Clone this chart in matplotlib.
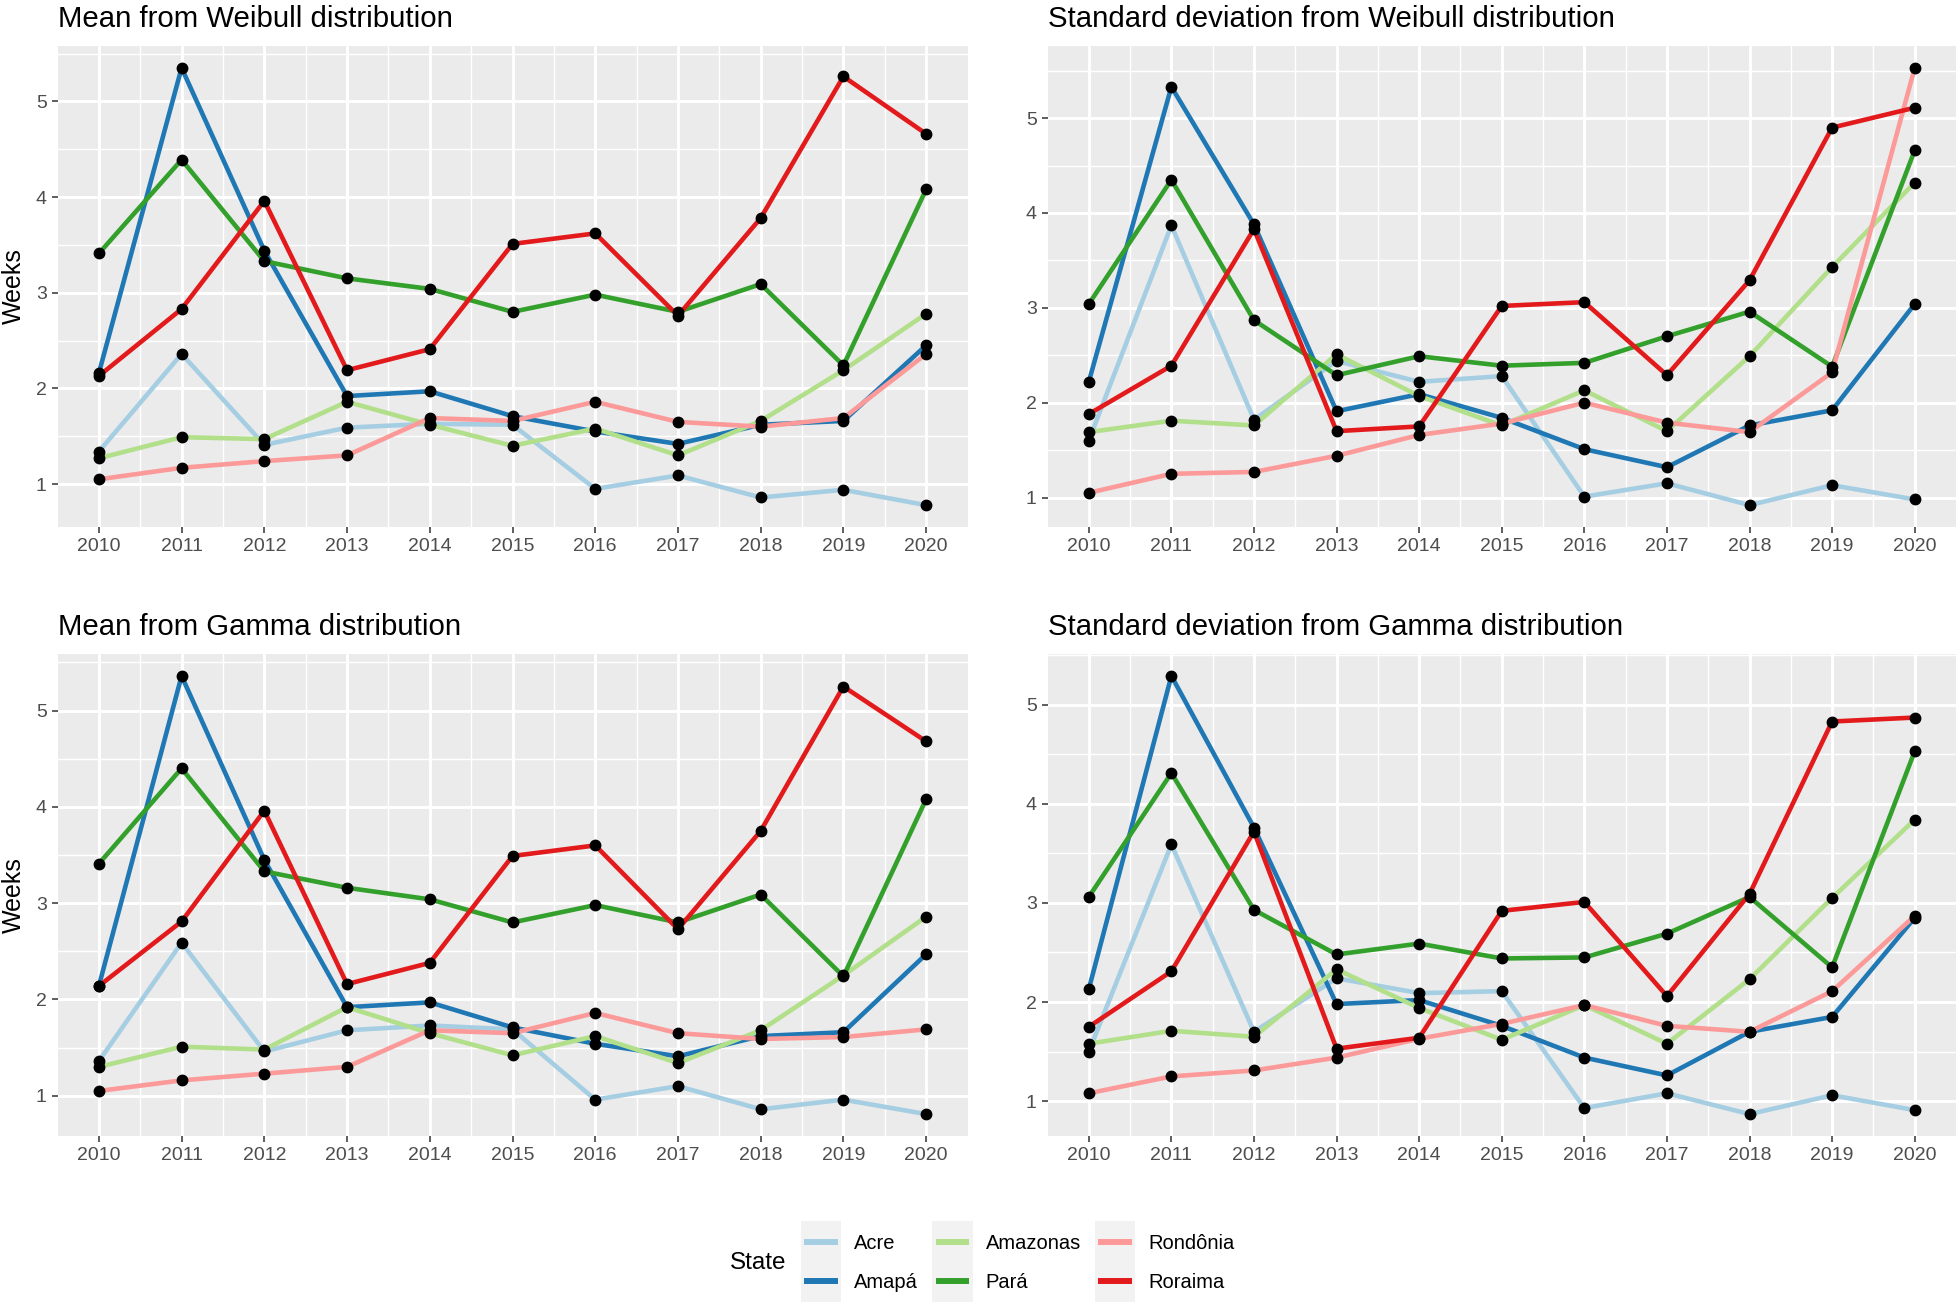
import matplotlib
matplotlib.use("Agg")
import matplotlib.pyplot as plt
from matplotlib.legend_handler import HandlerBase
from matplotlib.patches import Rectangle
from matplotlib.lines import Line2D
import numpy as np

plt.rcParams['font.family'] = ['Liberation Sans', 'DejaVu Sans']

years = list(range(2010, 2021))
states = ["Acre", "Amapá", "Amazonas", "Pará", "Rondônia", "Roraima"]
colors = ["#A6CEE3", "#1F78B4", "#B2DF8A", "#33A02C", "#FB9A99", "#E31A1C"]

# Mean from Weibull distribution
mean_weibull_acre     = [1.34, 2.36, 1.41, 1.59, 1.63, 1.62, 0.95, 1.09, 0.86, 0.94, 0.78]
mean_weibull_amapa    = [2.16, 5.35, 3.44, 1.92, 1.97, 1.71, 1.55, 1.42, 1.62, 1.66, 2.45]
mean_weibull_amazonas = [1.27, 1.49, 1.47, 1.86, 1.62, 1.40, 1.58, 1.30, 1.66, 2.19, 2.78]
mean_weibull_para     = [3.41, 4.39, 3.33, 3.15, 3.04, 2.80, 2.98, 2.80, 3.09, 2.24, 4.08]
mean_weibull_rondonia = [1.05, 1.17, 1.24, 1.30, 1.69, 1.66, 1.86, 1.65, 1.60, 1.69, 2.36]
mean_weibull_roraima  = [2.13, 2.83, 3.96, 2.19, 2.41, 3.51, 3.62, 2.76, 3.78, 5.26, 4.66]

# Standard deviation from Weibull distribution
sd_weibull_acre     = [1.60, 3.87, 1.82, 2.44, 2.22, 2.28, 1.01, 1.15, 0.92, 1.13, 0.98]
sd_weibull_amapa    = [2.22, 5.33, 3.88, 1.91, 2.09, 1.84, 1.51, 1.32, 1.76, 1.92, 3.04]
sd_weibull_amazonas = [1.69, 1.81, 1.76, 2.51, 2.07, 1.76, 2.13, 1.70, 2.49, 3.43, 4.32]
sd_weibull_para     = [3.04, 4.35, 2.87, 2.29, 2.49, 2.39, 2.42, 2.70, 2.96, 2.38, 4.66]
sd_weibull_rondonia = [1.05, 1.25, 1.27, 1.44, 1.66, 1.78, 2.00, 1.79, 1.69, 2.32, 5.53]
sd_weibull_roraima  = [1.88, 2.39, 3.83, 1.70, 1.75, 3.02, 3.06, 2.29, 3.29, 4.90, 5.11]

# Mean from Gamma distribution
mean_gamma_acre     = [1.36, 2.59, 1.46, 1.68, 1.73, 1.69, 0.96, 1.10, 0.86, 0.96, 0.81]
mean_gamma_amapa    = [2.14, 5.36, 3.45, 1.92, 1.97, 1.71, 1.54, 1.41, 1.62, 1.66, 2.47]
mean_gamma_amazonas = [1.30, 1.51, 1.48, 1.92, 1.65, 1.42, 1.62, 1.34, 1.68, 2.25, 2.86]
mean_gamma_para     = [3.41, 4.40, 3.33, 3.16, 3.04, 2.80, 2.98, 2.80, 3.09, 2.24, 4.08]
mean_gamma_rondonia = [1.05, 1.16, 1.23, 1.30, 1.68, 1.65, 1.86, 1.65, 1.59, 1.61, 1.69]
mean_gamma_roraima  = [2.14, 2.81, 3.96, 2.16, 2.38, 3.49, 3.60, 2.73, 3.75, 5.25, 4.68]

# Standard deviation from Gamma distribution
sd_gamma_acre     = [1.50, 3.59, 1.70, 2.24, 2.09, 2.11, 0.93, 1.08, 0.87, 1.06, 0.91]
sd_gamma_amapa    = [2.13, 5.29, 3.76, 1.98, 2.02, 1.76, 1.44, 1.26, 1.70, 1.85, 2.85]
sd_gamma_amazonas = [1.58, 1.71, 1.65, 2.33, 1.94, 1.62, 1.97, 1.58, 2.23, 3.05, 3.84]
sd_gamma_para     = [3.06, 4.31, 2.93, 2.48, 2.59, 2.44, 2.45, 2.69, 3.06, 2.35, 4.53]
sd_gamma_rondonia = [1.08, 1.25, 1.31, 1.44, 1.63, 1.78, 1.97, 1.76, 1.70, 2.11, 2.87]
sd_gamma_roraima  = [1.75, 2.31, 3.72, 1.53, 1.64, 2.92, 3.01, 2.06, 3.09, 4.83, 4.87]

panels = [
    ("Mean from Weibull distribution",
     [mean_weibull_acre, mean_weibull_amapa, mean_weibull_amazonas,
      mean_weibull_para, mean_weibull_rondonia, mean_weibull_roraima]),
    ("Standard deviation from Weibull distribution",
     [sd_weibull_acre, sd_weibull_amapa, sd_weibull_amazonas,
      sd_weibull_para, sd_weibull_rondonia, sd_weibull_roraima]),
    ("Mean from Gamma distribution",
     [mean_gamma_acre, mean_gamma_amapa, mean_gamma_amazonas,
      mean_gamma_para, mean_gamma_rondonia, mean_gamma_roraima]),
    ("Standard deviation from Gamma distribution",
     [sd_gamma_acre, sd_gamma_amapa, sd_gamma_amazonas,
      sd_gamma_para, sd_gamma_rondonia, sd_gamma_roraima]),
]

W, H = 1960, 1304
fig = plt.figure(figsize=(W / 100, H / 100), dpi=100)

# panel boxes in pixels: (left, top, right, bottom)
boxes = [
    (57.5, 46, 967.5, 527),
    (1047.5, 46, 1956, 527),
    (57.5, 654, 967.5, 1136),
    (1047.5, 654, 1956, 1136),
]

LW_PT = 3.3
MS_PT = 7.5

for i, ((title, series), (l, t, r, b)) in enumerate(zip(panels, boxes)):
    ax = fig.add_axes([l / W, 1 - b / H, (r - l) / W, (b - t) / H])
    ax.set_facecolor("#EBEBEB")
    for s in ax.spines.values():
        s.set_visible(False)
    for vals, c in zip(series, colors):
        ax.plot(years, vals, color=c, lw=LW_PT, solid_capstyle="butt", zorder=3)
    for vals in series:
        ax.plot(years, vals, linestyle="none", marker="o", ms=MS_PT,
                color="black", zorder=4)
    allv = np.concatenate([np.asarray(v) for v in series])
    lo, hi = allv.min(), allv.max()
    rng = hi - lo
    ax.set_ylim(lo - 0.05 * rng, hi + 0.05 * rng)
    ax.set_xlim(2009.5, 2020.5)
    ax.set_xticks(years)
    ax.set_xticklabels([str(y) for y in years])
    ax.set_xticks(np.arange(2010.5, 2020, 1.0), minor=True)
    ax.set_yticks([1, 2, 3, 4, 5])
    ymin, ymax = ax.get_ylim()
    ax.set_yticks([v for v in np.arange(0.5, 6.0, 1.0) if ymin < v < ymax], minor=True)
    ax.grid(which="major", color="white", lw=2.1, zorder=1)
    ax.grid(which="minor", color="white", lw=1.05, zorder=1)
    ax.set_axisbelow(True)
    ax.tick_params(which="major", length=4.3, width=1.1, color="#333333",
                   labelsize=14, labelcolor="#4D4D4D", pad=3.5)
    ax.tick_params(which="minor", length=0)
    fig.text(l / W, 1 - (t - 27) / H, title, fontsize=21.2, ha="left",
             va="center", color="black")
    if i % 2 == 0:
        fig.text(14 / W, 1 - ((t + b) / 2) / H, "Weeks", fontsize=18,
                 rotation=90, ha="center", va="center")


class KeyHandler(HandlerBase):
    def create_artists(self, legend, orig_handle, xdescent, ydescent,
                       width, height, fontsize, trans):
        pitch = 29.5
        cy = -ydescent + height / 2
        rect = Rectangle((-xdescent, cy - pitch / 2), width, pitch,
                         facecolor="#F2F2F2", edgecolor="none", transform=trans)
        inset = width * 0.08
        line = Line2D([-xdescent + inset, -xdescent + width - inset], [cy, cy],
                      color=orig_handle.get_color(), lw=LW_PT * 1.3,
                      solid_capstyle="butt", transform=trans)
        return [rect, line]


handles = [Line2D([], [], color=c) for c in colors]
leg = fig.legend(handles, states, loc="center left",
                 bbox_to_anchor=(801 / W, 1 - 1263 / H), ncol=3,
                 frameon=False, fontsize=14.5, handlelength=2.0,
                 handleheight=0.7, handletextpad=0.65, columnspacing=0.7,
                 labelspacing=1.0, borderpad=0, borderaxespad=0,
                 handler_map={Line2D: KeyHandler()})
fig.text(730 / W, 1 - 1263 / H, "State", fontsize=17.5, ha="left", va="center")

fig.savefig("out.png", dpi=100)
